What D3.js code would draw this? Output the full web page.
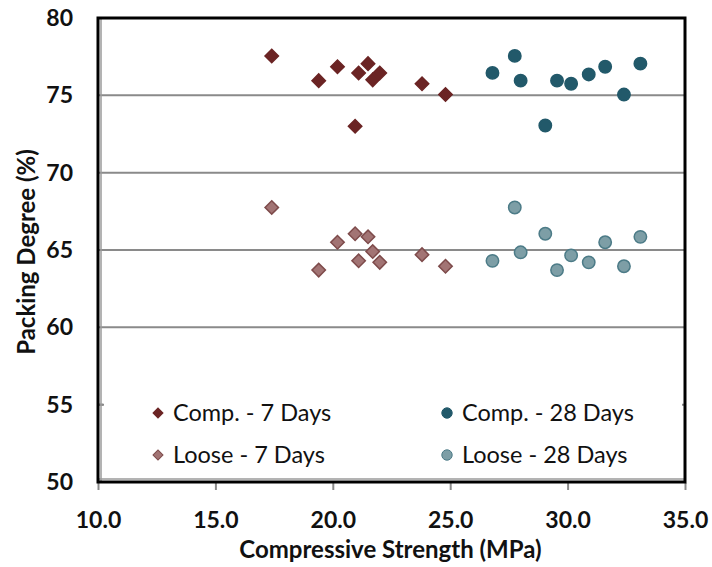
<!DOCTYPE html>
<html>
<head>
<meta charset="utf-8">
<script src="https://cdn.jsdelivr.net/npm/d3@7"></script>
<style>
  html, body { margin: 0; padding: 0; background: #fff; }
  svg { display: block; }
  text { font-family: Lato, "Open Sans", "DejaVu Sans", sans-serif; }
</style>
</head>
<body>
<svg id="chart" width="712" height="567"></svg>
<script>
// Compressive strength (MPa) of each mix, 7-day and 28-day tests
const strength7  = [17.4, 19.4, 20.2, 20.95, 21.1, 21.5, 21.7, 22.0, 23.8, 24.8];
const strength28 = [26.8, 27.75, 28.0, 29.05, 29.55, 30.15, 30.9, 31.6, 32.4, 33.1];

// Packing degree (%) in compacted and loose state
const comp7   = [77.55, 75.95, 76.85, 73.0, 76.45, 77.05, 76.0, 76.45, 75.75, 75.05];
const loose7  = [67.75, 63.7, 65.5, 66.05, 64.3, 65.85, 64.9, 64.2, 64.7, 63.95];
const comp28  = [76.45, 77.55, 75.95, 73.05, 75.95, 75.75, 76.35, 76.85, 75.05, 77.05];
const loose28 = [64.3, 67.75, 64.85, 66.05, 63.7, 64.65, 64.2, 65.5, 63.95, 65.85];

const xTicks = [10, 15, 20, 25, 30, 35];
const yTicks = [50, 55, 60, 65, 70, 75, 80];
const gridValues = [55, 60, 65, 70, 75];

const seriesNames = ["Comp. - 7 Days", "Comp. - 28 Days", "Loose - 7 Days", "Loose - 28 Days"];

const series = [
  { name: seriesNames[0], xs: strength7,  ys: comp7,   shape: "diamond", fill: "#6b2424", stroke: "#6b2424" },
  { name: seriesNames[1], xs: strength28, ys: comp28,  shape: "circle",  fill: "#22596a", stroke: "#22596a" },
  { name: seriesNames[2], xs: strength7,  ys: loose7,  shape: "diamond", fill: "#a27474", stroke: "#7e4b4b" },
  { name: seriesNames[3], xs: strength28, ys: loose28, shape: "circle",  fill: "#7d9ea6", stroke: "#4c7b87" }
];

const svg = d3.select("#chart");
const L = 98, R = 685, T = 18, B = 482;

const x = d3.scaleLinear().domain([10, 35]).range([L, R]);
const y = d3.scaleLinear().domain([50, 80]).range([B, T]);

// horizontal gridlines
svg.append("g").selectAll("line").data(gridValues).join("line")
  .attr("x1", L).attr("x2", R)
  .attr("y1", d => y(d)).attr("y2", d => y(d))
  .attr("stroke", "#8a8a8a").attr("stroke-width", 2);

// x axis with ticks below the plot
const xAxis = svg.append("g").attr("transform", `translate(0,${B + 1})`)
  .call(d3.axisBottom(x).tickValues(xTicks).tickSize(7).tickFormat(d3.format(".1f")));
xAxis.select(".domain").remove();
xAxis.selectAll(".tick line").attr("stroke", "#8a8a8a").attr("stroke-width", 2);
xAxis.selectAll(".tick text")
  .attr("y", 37).attr("dy", "0.35em")
  .attr("font-size", 23).attr("font-weight", "bold").attr("fill", "#111");

// y axis labels
const yAxis = svg.append("g").attr("transform", `translate(${L},0)`)
  .call(d3.axisLeft(y).tickValues(yTicks).tickSize(0));
yAxis.select(".domain").remove();
yAxis.selectAll(".tick text")
  .attr("x", -25).attr("font-size", 23).attr("font-weight", "bold").attr("fill", "#111");

// minor tick on the left axis
svg.append("line").attr("x1", L).attr("x2", L + 5)
  .attr("y1", y(55)).attr("y2", y(55))
  .attr("stroke", "#8a8a8a").attr("stroke-width", 2);

// markers
const diamond = d3.symbol().type(d3.symbolSquare).size(90);
series.forEach(s => {
  const g = svg.append("g");
  const pts = s.xs.map((v, i) => [v, s.ys[i]]);
  if (s.shape === "diamond") {
    g.selectAll("path").data(pts).join("path")
      .attr("d", diamond)
      .attr("transform", d => `translate(${x(d[0])},${y(d[1])}) rotate(45)`)
      .attr("fill", s.fill).attr("stroke", s.stroke).attr("stroke-width", 1.5);
  } else {
    g.selectAll("circle").data(pts).join("circle")
      .attr("cx", d => x(d[0])).attr("cy", d => y(d[1])).attr("r", 6.2)
      .attr("fill", s.fill).attr("stroke", s.stroke).attr("stroke-width", 1.5);
  }
});

// legend with white background inside the plot
const lg = svg.append("g");
lg.append("rect").attr("x", L + 6).attr("y", 392).attr("width", R - L - 9).attr("height", 84)
  .attr("fill", "#fff");
const legendPos = [[158, 413], [447, 413], [158, 455], [447, 455]];
series.forEach((s, i) => {
  const [lx, ly] = legendPos[i];
  if (s.shape === "diamond") {
    lg.append("path").attr("d", d3.symbol().type(d3.symbolSquare).size(50))
      .attr("transform", `translate(${lx},${ly}) rotate(45)`)
      .attr("fill", s.fill).attr("stroke", s.stroke).attr("stroke-width", 1);
  } else {
    lg.append("circle").attr("cx", lx).attr("cy", ly).attr("r", 5.2)
      .attr("fill", s.fill).attr("stroke", s.stroke).attr("stroke-width", 1);
  }
  lg.append("text").attr("x", lx + 15).attr("y", ly).attr("dy", "0.35em")
    .attr("font-size", 23.5).attr("fill", "#111").text(s.name);
});

// plot frame: black border with grey axis lines inside on left and bottom
svg.append("line").attr("x1", L + 3).attr("x2", L + 3).attr("y1", T).attr("y2", B)
  .attr("stroke", "#9a9a9a").attr("stroke-width", 1.5);
svg.append("line").attr("x1", L).attr("x2", R).attr("y1", B - 3).attr("y2", B - 3)
  .attr("stroke", "#9a9a9a").attr("stroke-width", 1.5);
svg.append("rect").attr("x", L).attr("y", T).attr("width", R - L).attr("height", B - T)
  .attr("fill", "none").attr("stroke", "#000").attr("stroke-width", 3);

// axis titles
svg.append("text").attr("x", (L + R) / 2 - 1).attr("y", 558).attr("text-anchor", "middle")
  .attr("font-size", 24).attr("font-weight", "bold").attr("fill", "#111")
  .text("Compressive Strength (MPa)");
svg.append("text").attr("transform", `translate(35,${(T + B) / 2 + 2}) rotate(-90)`)
  .attr("text-anchor", "middle")
  .attr("font-size", 24).attr("font-weight", "bold").attr("fill", "#111")
  .text("Packing Degree (%)");
</script>
</body>
</html>
